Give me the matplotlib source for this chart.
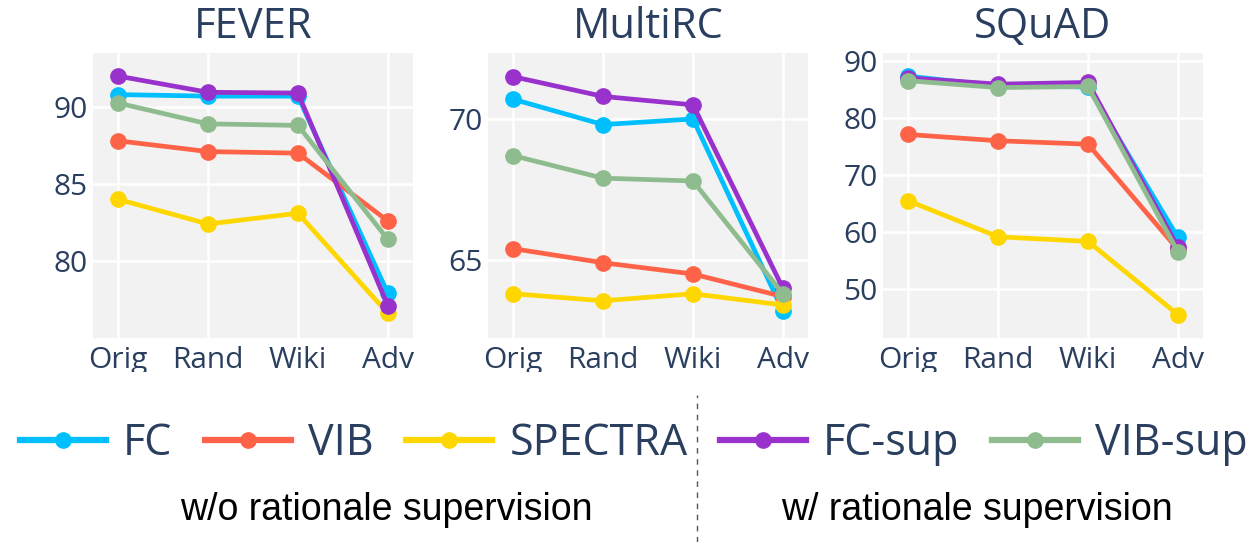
import matplotlib.pyplot as plt
from matplotlib.lines import Line2D
from matplotlib.patches import Rectangle

plt.rcParams['font.family'] = ['Open Sans', 'DejaVu Sans']

conds = ['Orig', 'Rand', 'Wiki', 'Adv']
titles = ['FEVER', 'MultiRC', 'SQuAD']
models = ['FC', 'VIB', 'SPECTRA', 'FC-sup', 'VIB-sup']
colors = ['#00BFFF', '#FF6347', '#FFD700', '#9932CC', '#8FBC8F']

# scores per dataset, per model (Orig, Rand, Wiki, Adv)
fever = {
    'FC':      [90.8, 90.7, 90.7, 77.9],
    'VIB':     [87.8, 87.1, 87.0, 82.6],
    'SPECTRA': [84.0, 82.4, 83.1, 76.6],
    'FC-sup':  [92.0, 90.95, 90.9, 77.1],
    'VIB-sup': [90.25, 88.9, 88.8, 81.4],
}
multirc = {
    'FC':      [70.7, 69.8, 70.0, 63.2],
    'VIB':     [65.4, 64.9, 64.5, 63.7],
    'SPECTRA': [63.8, 63.55, 63.8, 63.4],
    'FC-sup':  [71.5, 70.8, 70.5, 64.0],
    'VIB-sup': [68.7, 67.9, 67.8, 63.8],
}
squad = {
    'FC':      [87.3, 85.6, 85.4, 59.1],
    'VIB':     [77.1, 76.0, 75.4, 57.0],
    'SPECTRA': [65.5, 59.2, 58.4, 45.6],
    'FC-sup':  [87.0, 85.9, 86.2, 57.4],
    'VIB-sup': [86.5, 85.3, 85.5, 56.6],
}
data = [fever, multirc, squad]
ylims = [(75.0, 93.5), (62.23, 72.34), (41.5, 91.35)]
yticks = [[80, 85, 90], [65, 70], [50, 60, 70, 80, 90]]

txt = '#2a3f5f'
W, H = 1255, 542
fig = plt.figure(figsize=(W / 100, H / 100), dpi=100)

lefts = [93, 488, 883]
for i, d in enumerate(data):
    ax = fig.add_axes([lefts[i] / W, 1 - 338 / H, 320 / W, 285 / H])
    ax.set_facecolor('#f2f2f2')
    x = range(len(conds))
    for m, c in zip(models, colors):
        ax.plot(x, d[m], color=c, lw=3.4, marker='o', ms=11, zorder=3)
    ax.set_xlim(-0.28, 3.28)
    ax.set_ylim(*ylims[i])
    ax.set_xticks(list(x))
    ax.set_xticklabels(conds)
    ax.set_yticks(yticks[i])
    ax.grid(True, color='white', lw=1.8, zorder=0)
    ax.set_axisbelow(True)
    for s in ax.spines.values():
        s.set_visible(False)
    ax.tick_params(length=0, labelsize=21.5, colors=txt, pad=4)
    ax.tick_params(axis='x', pad=6)
    fig.text((lefts[i] + 160) / W, 1 - 27 / H, titles[i], ha='center',
             va='center', fontsize=30, color=txt)

# tick labels are cut off at the bottom in the original
fig.patches.append(Rectangle((0, 1 - 385 / H), 1, 13 / H, transform=fig.transFigure,
                             facecolor='white', edgecolor='none', zorder=10))

handles = [Line2D([], [], color=c, lw=4.5, marker='o', ms=11) for c in colors]
fig.legend(handles, models, loc='center', bbox_to_anchor=(0.505, 1 - 444 / H), ncol=5,
           frameon=False, fontsize=31, labelcolor=txt, handlelength=2.0,
           handletextpad=0.4, columnspacing=0.75, borderaxespad=0)

fig.add_artist(Line2D([697 / W, 697 / W], [0, 1 - 395 / H], transform=fig.transFigure,
                      color='#555555', lw=1, ls=(0, (4, 4))))
fig.text(386 / W, 1 - 510 / H, 'w/o rationale supervision', ha='center', va='center',
         fontsize=27, family='Liberation Sans', color='black')
fig.text(977 / W, 1 - 510 / H, 'w/ rationale supervision', ha='center', va='center',
         fontsize=27, family='Liberation Sans', color='black')

fig.savefig('out.png', dpi=100)
